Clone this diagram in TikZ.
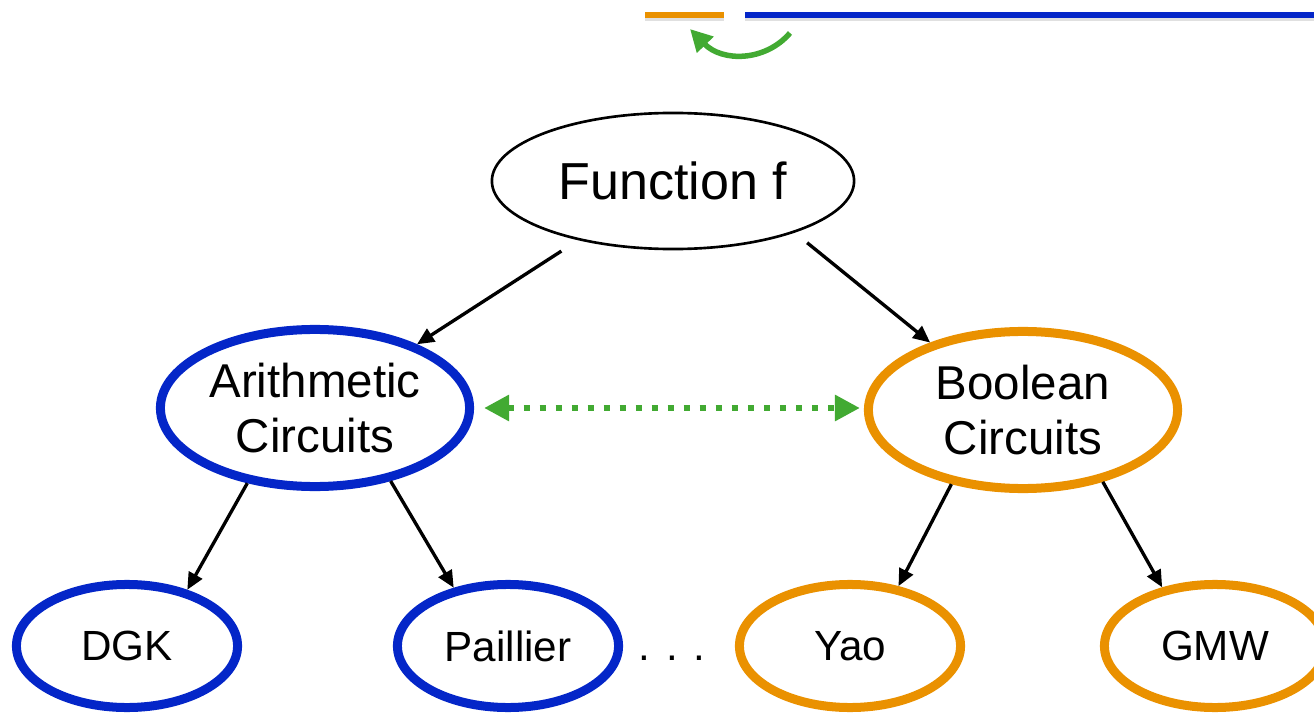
\documentclass[tikz,border=0pt]{standalone}
\usepackage{fontspec}
\setmainfont{Liberation Sans}
\usepackage{xcolor}
\usepackage{tikz}
\usetikzlibrary{shapes,arrows.meta,positioning,calc}
\definecolor{circblue}{RGB}{4,38,200}
\definecolor{circorange}{RGB}{234,145,0}
\definecolor{convgreen}{RGB}{66,170,50}

\begin{document}
\begin{tikzpicture}[
    x=0.01cm, y=-0.01cm,
    oval/.style={ellipse, draw, inner sep=0pt, align=center},
    topoval/.style={oval, line width=0.75pt, minimum width=3.62cm, minimum height=1.36cm, font=\fontsize{14.8}{17}\selectfont},
    midoval/.style={oval, line width=0.09cm, minimum width=3.09cm, minimum height=1.57cm, font=\fontsize{13.5}{15.9}\selectfont},
    leafoval/.style={oval, line width=0.09cm, minimum width=2.21cm, minimum height=1.23cm, font=\fontsize{12}{14}\selectfont},
    arithbox/.style={draw=circblue},
    boolbox/.style={draw=circorange},
    arrow/.style={-{Triangle[length=0.17cm,width=0.15cm]}, line width=0.95pt},
    convarrow/.style={{Triangle[length=0.25cm,width=0.25cm]}-{Triangle[length=0.25cm,width=0.25cm]}, convgreen, line width=0.06cm, dash pattern=on 0.06cm off 0.1cm},
    swaparrow/.style={-{Triangle[length=0.22cm,width=0.22cm]}, convgreen, line width=0.055cm},
    bar/.style={line width=0.05cm}
]
\useasboundingbox (0,0) rectangle (1314,715);
\clip (0,0) rectangle (1314,715);

% bit bars at the top
\coordinate (orgL) at (645,15);
\coordinate (orgR) at (724,15);
\coordinate (bluL) at (745,15);
\coordinate (bluR) at (1314,15);
\draw[bar, black!12] ([yshift=-0.03cm]orgL) -- ([yshift=-0.03cm]orgR);
\draw[bar, black!12] ([yshift=-0.03cm]bluL) -- ([yshift=-0.03cm]bluR);
\draw[bar, circorange] (orgL) -- (orgR);
\draw[bar, circblue] (bluL) -- (bluR);
\coordinate (swapA) at (790,33);
\coordinate (swapB) at (690,29);
\draw[swaparrow] (swapA) .. controls (765,62) and (722,62) .. (swapB);

% circuit tree
\node[topoval] (func) at (673,181) {Function f};
\node[midoval, arithbox] (arith) at (315,408) {Arithmetic\\Circuits};
\node[midoval, boolbox] (bool) at (1023,410) {Boolean\\Circuits};

\node[leafoval, arithbox] (dgk) at (127,646) {DGK};
\node[leafoval, arithbox] (pail) at (508,646) {Paillier};
\node[leafoval, boolbox] (yao) at (850,646) {Yao};
\node[leafoval, boolbox] (gmw) at (1215,646) {GMW};
\node[anchor=base, font=\fontsize{12}{14}\selectfont] (dots) at (672,660) {. . .};

\draw[arrow, shorten <=0.2cm] (func.212) -- (arith.32);
\draw[arrow, shorten <=0.16cm] (func.-23) -- (bool.144);
\draw[arrow] (arith.228) -- (dgk.43);
\draw[arrow] (arith.316) -- (pail.133);
\draw[arrow] (bool.226) -- (yao.51);
\draw[arrow] (bool.318) -- (gmw.132);

% conversion between the two circuit kinds
\draw[convarrow, shorten <=0.1cm, shorten >=0.04cm] (arith.east) -- (arith.east -| bool.west);

\end{tikzpicture}
\end{document}
